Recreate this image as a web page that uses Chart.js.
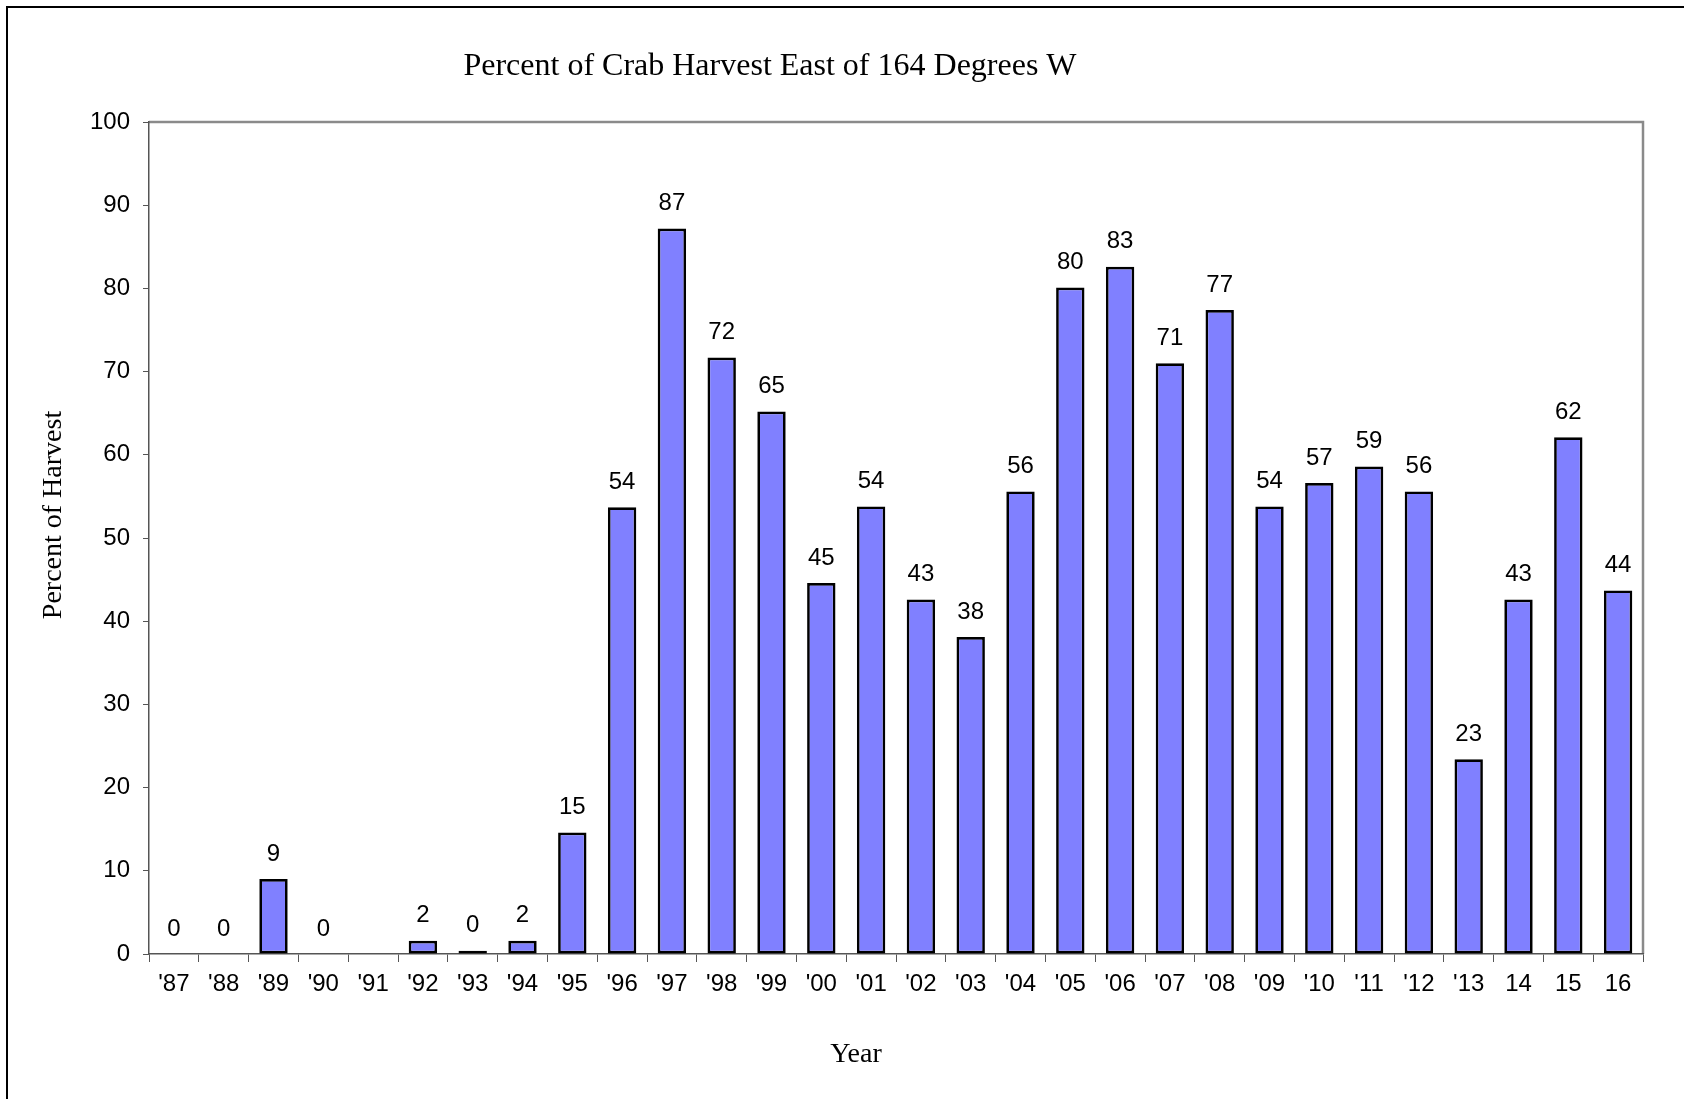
<!DOCTYPE html>
<html>
<head>
<meta charset="utf-8">
<script src="https://cdn.jsdelivr.net/npm/chart.js@4.4.1/dist/chart.umd.min.js"></script>
<style>
  html,body{margin:0;padding:0;background:#fff;}
  #wrap{width:1684px;height:1099px;position:relative;}
</style>
</head>
<body>
<div id="wrap"><canvas id="c" width="1684" height="1099"></canvas></div>
<script>
/* crab harvest east of 164W, percent by year */
const years=["'87","'88","'89","'90","'91","'92","'93","'94","'95","'96","'97","'98","'99","'00","'01",
             "'02","'03","'04","'05","'06","'07","'08","'09","'10","'11","'12","'13","14","15","16"];
const pctEast=[0,0,9,0,null,1.6,0.4,1.6,14.6,53.7,87.2,71.7,65.2,44.6,53.8,
               42.6,38.1,55.6,80.1,82.6,71.0,77.4,53.8,56.6,58.6,55.6,23.4,42.6,62.1,43.7];
const yTicks=[0,10,20,30,40,50,60,70,80,90,100];

const TITLE='Percent of Crab Harvest East of 164 Degrees W';
const X_TITLE='Year', Y_TITLE='Percent of Harvest';
const SERIF="'Liberation Serif','Times New Roman',serif";
const SANS="'Liberation Sans',Arial,sans-serif";

// frame, plot-area box, titles
const decor={
  id:'decor',
  beforeDraw(chart){
    const c=chart.ctx, a=chart.chartArea;
    c.save();
    c.fillStyle='#fff'; c.fillRect(0,0,chart.width,chart.height);
    c.strokeStyle='#000'; c.lineWidth=2;
    c.beginPath(); c.moveTo(7,chart.height); c.lineTo(7,7); c.lineTo(chart.width,7); c.stroke();
    c.strokeStyle='#8a8a8a'; c.lineWidth=2.5;
    c.beginPath(); c.moveTo(a.left,a.top); c.lineTo(a.right,a.top); c.lineTo(a.right,a.bottom); c.stroke();
    c.fillStyle='#000'; c.textAlign='center'; c.textBaseline='middle';
    c.font='32px '+SERIF; c.fillText(TITLE,770,67);
    c.font='28px '+SERIF; c.fillText(X_TITLE,856,1055);
    c.translate(54,515); c.rotate(-Math.PI/2); c.fillText(Y_TITLE,0,0);
    c.restore();
  },
  afterDatasetsDraw(chart){
    const c=chart.ctx, meta=chart.getDatasetMeta(0);
    c.save();
    c.fillStyle='#000'; c.font='24px '+SANS; c.textAlign='center'; c.textBaseline='middle';
    meta.data.forEach((bar,i)=>{
      const v=pctEast[i]; if(v===null)return;
      c.fillText(String(Math.round(v)),bar.x,bar.y-25);
    });
    c.restore();
  }
};

new Chart(document.getElementById('c'),{
  type:'bar',
  data:{labels:years,datasets:[{
    data:pctEast,backgroundColor:'#8080ff',borderColor:'#000',borderWidth:2.7,borderSkipped:false,
    categoryPercentage:1,barPercentage:0.57
  }]},
  options:{
    responsive:false,animation:false,
    layout:{padding:{left:0,top:122,right:41,bottom:0}},
    plugins:{legend:{display:false},title:{display:false},tooltip:{enabled:false}},
    scales:{
      x:{
        grid:{display:true,drawOnChartArea:false,drawTicks:true,tickLength:8,color:'#555',offset:true},
        border:{display:true,color:'#555',width:1.5},
        ticks:{color:'#000',font:{family:SANS,size:24},padding:8,maxRotation:0,autoSkip:false},
        afterFit(s){s.height=145;}
      },
      y:{
        min:0,max:100,
        afterBuildTicks(s){s.ticks=yTicks.map(v=>({value:v}));},
        grid:{display:true,drawOnChartArea:false,drawTicks:true,tickLength:6,color:'#555'},
        border:{display:true,color:'#555',width:1.5},
        ticks:{color:'#000',font:{family:SANS,size:24},padding:13},
        afterFit(s){s.width=149;}
      }
    }
  },
  plugins:[decor]
});
</script>
</body>
</html>
